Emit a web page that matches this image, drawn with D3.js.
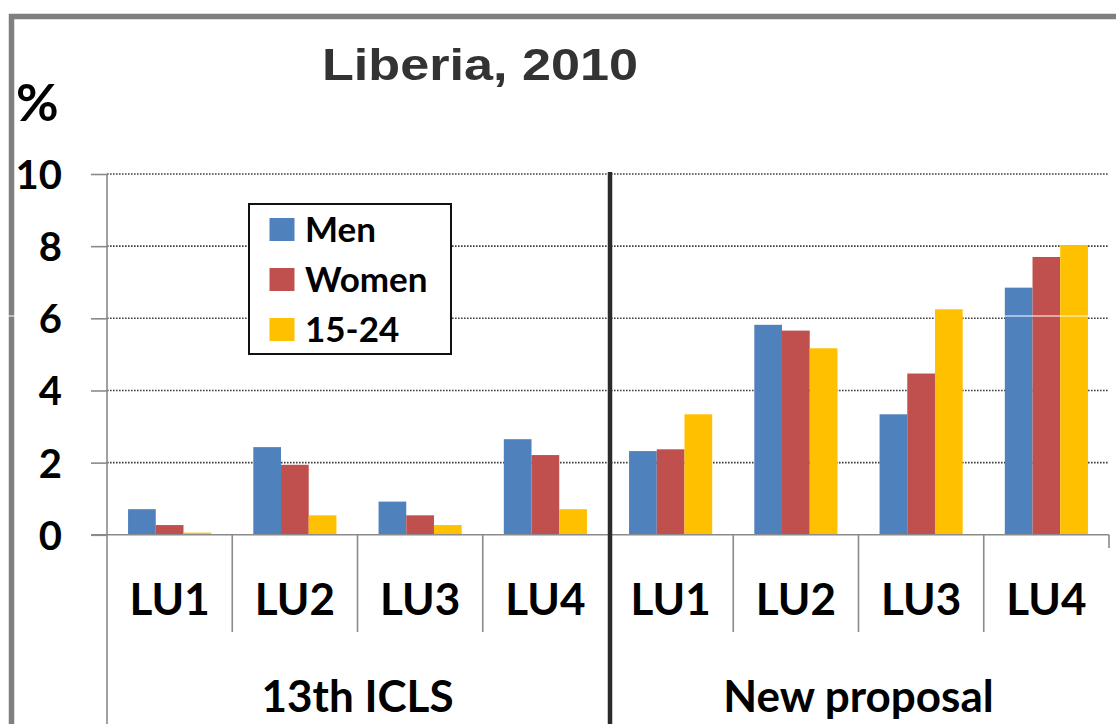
<!DOCTYPE html>
<html>
<head>
<meta charset="utf-8">
<script src="https://cdn.jsdelivr.net/npm/d3@7"></script>
<style>
  html, body { margin: 0; padding: 0; background: #fff; }
  svg { display: block; }
</style>
</head>
<body>
<svg id="chart" width="1116" height="724"></svg>
<script>
// ---- data ----
const groups = ["13th ICLS", "New proposal"];
const units = ["LU1", "LU2", "LU3", "LU4"];
const seriesNames = ["Men", "Women", "15-24"];
const men   = [0.71, 2.43, 0.92, 2.65, 2.32, 5.82, 3.34, 6.85];
const women = [0.27, 1.94, 0.54, 2.21, 2.37, 5.66, 4.47, 7.70];
const youth = [0.06, 0.54, 0.27, 0.71, 3.34, 5.17, 6.25, 8.03];
const yTicks = [0, 2, 4, 6, 8, 10];
const colors = ["#4F81BD", "#C0504D", "#FFC000"];

(function () {
const seriesValues = [men, women, youth];
const cats = [];
groups.forEach((g, gi) => units.forEach((u, ui) => cats.push({key: gi + "-" + u, group: g, unit: u, idx: gi * units.length + ui})));

const svg = d3.select("#chart");
const W = 1116, H = 724;
const pLeft = 107, pRight = 1109, pTop = 174, pBase = 534.8;

// frame
svg.append("rect").attr("x", 11.5).attr("y", 16.5).attr("width", W + 20).attr("height", H + 20)
  .attr("fill", "none").attr("stroke", "#7f7f7f").attr("stroke-width", 5.5);

const x0 = d3.scaleBand().domain(cats.map(c => c.key)).range([pLeft, pRight]).padding(0);
const x1 = d3.scaleBand().domain(seriesNames).range([0, x0.bandwidth()]).paddingInner(0).paddingOuter(0.76);
const y = d3.scaleLinear().domain([0, 10]).range([pBase, pTop]);

// gridlines (dotted)
svg.append("g").selectAll("line").data(yTicks.filter(t => t > 0)).join("line")
  .attr("x1", pLeft).attr("x2", pRight)
  .attr("y1", d => y(d)).attr("y2", d => y(d))
  .attr("stroke", "#404040").attr("stroke-width", 1.6).attr("stroke-dasharray", "1.6,1.4");

// y axis
const yAxis = d3.axisLeft(y).tickValues(yTicks).tickSize(16).tickPadding(29).tickFormat(d3.format("d"));
const gy = svg.append("g").attr("transform", `translate(${pLeft},0)`).call(yAxis);
gy.select(".domain").remove();
gy.selectAll(".tick line").attr("stroke", "#8a8a8a").attr("stroke-width", 1.6);
gy.selectAll(".tick text").attr("font-family", "Lato, 'Open Sans', sans-serif").attr("font-weight", "bold")
  .attr("font-size", 40).attr("fill", "#000").attr("dy", "0.36em");
svg.append("line").attr("x1", pLeft).attr("x2", pLeft).attr("y1", pTop).attr("y2", H)
  .attr("stroke", "#8a8a8a").attr("stroke-width", 1.6);

// bars
const barG = svg.append("g");
cats.forEach(c => {
  seriesNames.forEach((s, si) => {
    const v = seriesValues[si][c.idx];
    barG.append("rect")
      .attr("x", x0(c.key) + x1(s))
      .attr("width", x1.bandwidth())
      .attr("y", y(v))
      .attr("height", y(0) - y(v))
      .attr("fill", colors[si]);
  });
});

// x axis line
svg.append("line").attr("x1", pLeft - 16).attr("x2", pRight).attr("y1", pBase).attr("y2", pBase)
  .attr("stroke", "#8a8a8a").attr("stroke-width", 1.6);

// category dividers
cats.forEach((c, i) => {
  if (i === 0) return;
  const xx = x0(c.key);
  if (i % units.length !== 0) {
    svg.append("line").attr("x1", xx).attr("x2", xx).attr("y1", pBase).attr("y2", 632)
      .attr("stroke", "#8a8a8a").attr("stroke-width", 1.6);
  }
});
svg.append("line").attr("x1", pRight).attr("x2", pRight).attr("y1", pBase).attr("y2", 548)
  .attr("stroke", "#8a8a8a").attr("stroke-width", 1.6);

// group separator
const sepX = x0(cats[units.length].key) + 2;
svg.append("line").attr("x1", sepX).attr("x2", sepX).attr("y1", pTop - 2).attr("y2", H)
  .attr("stroke", "#2b2b2b").attr("stroke-width", 4.5);

// unit labels
svg.append("g").selectAll("text").data(cats).join("text")
  .attr("x", d => x0(d.key) + x0.bandwidth() / 2)
  .attr("y", 615)
  .attr("text-anchor", "middle")
  .attr("font-family", "Lato, 'Open Sans', sans-serif").attr("font-weight", "bold")
  .attr("font-size", 44).attr("fill", "#000")
  .text(d => d.unit);

// group labels
svg.append("g").selectAll("text").data(groups).join("text")
  .attr("x", (d, gi) => {
    const a = x0(cats[gi * units.length].key);
    const b = x0(cats[gi * units.length + units.length - 1].key) + x0.bandwidth();
    return (a + b) / 2;
  })
  .attr("y", 712)
  .attr("text-anchor", "middle")
  .attr("font-family", "Lato, 'Open Sans', sans-serif").attr("font-weight", "bold")
  .attr("font-size", 44).attr("fill", "#000")
  .text(d => d);

// title
svg.append("text").attr("x", 480).attr("y", 80).attr("text-anchor", "middle")
  .attr("font-family", "'Liberation Sans', Arial, sans-serif").attr("font-weight", "bold")
  .attr("font-size", 45).attr("fill", "#333")
  .attr("textLength", 316).attr("lengthAdjust", "spacingAndGlyphs")
  .text("Liberia, 2010");

// % label
svg.append("text").attr("x", 16).attr("y", 121)
  .attr("font-family", "Lato, 'Open Sans', sans-serif").attr("font-weight", "bold")
  .attr("font-size", 52).attr("fill", "#000")
  .text("%");

// legend
const lg = svg.append("g");
lg.append("rect").attr("x", 249).attr("y", 204).attr("width", 202).attr("height", 150)
  .attr("fill", "#fff").attr("stroke", "#111").attr("stroke-width", 2);
seriesNames.forEach((s, i) => {
  const cy = 229.5 + i * 50;
  lg.append("rect").attr("x", 269.5).attr("y", cy - 11.5).attr("width", 25).attr("height", 23).attr("fill", colors[i]);
  lg.append("text").attr("x", 305).attr("y", cy).attr("dy", "0.36em")
    .attr("font-family", "Lato, 'Open Sans', sans-serif").attr("font-weight", "bold")
    .attr("font-size", 35).attr("fill", "#000").text(s);
});

// image artifacts (thin white scan lines)
svg.append("line").attr("x1", 0).attr("x2", 18).attr("y1", 316).attr("y2", 316).attr("stroke", "#fff").attr("stroke-width", 1);
svg.append("line").attr("x1", 963).attr("x2", W).attr("y1", 316).attr("y2", 316).attr("stroke", "#fff").attr("stroke-width", 1);
})();
</script>
</body>
</html>
